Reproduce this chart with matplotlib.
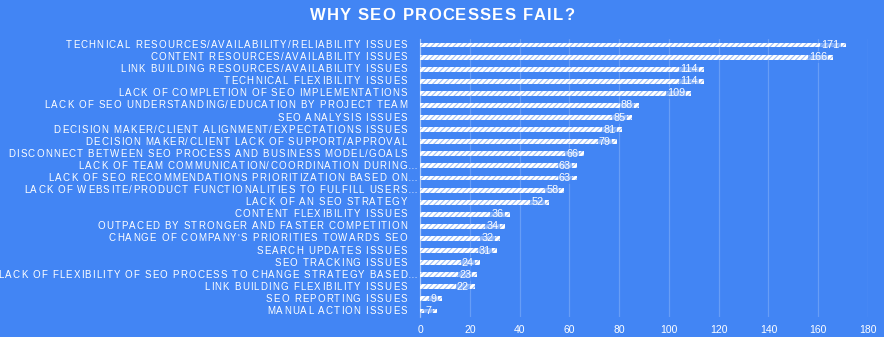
import matplotlib
matplotlib.use("Agg")
import matplotlib.pyplot as plt
from matplotlib.font_manager import FontProperties
from matplotlib.transforms import blended_transform_factory

categories = [
    "TECHNICAL RESOURCES/AVAILABILITY/RELIABILITY ISSUES",
    "CONTENT RESOURCES/AVAILABILITY ISSUES",
    "LINK BUILDING RESOURCES/AVAILABILITY ISSUES",
    "TECHNICAL FLEXIBILITY ISSUES",
    "LACK OF COMPLETION OF SEO IMPLEMENTATIONS",
    "LACK OF SEO UNDERSTANDING/EDUCATION BY PROJECT TEAM",
    "SEO ANALYSIS ISSUES",
    "DECISION MAKER/CLIENT ALIGNMENT/EXPECTATIONS ISSUES",
    "DECISION MAKER/CLIENT LACK OF SUPPORT/APPROVAL",
    "DISCONNECT BETWEEN SEO PROCESS AND BUSINESS MODEL/GOALS",
    "LACK OF TEAM COMMUNICATION/COORDINATION DURING\u2026",
    "LACK OF SEO RECOMMENDATIONS PRIORITIZATION BASED ON\u2026",
    "LACK OF WEBSITE/PRODUCT FUNCTIONALITIES TO FULFILL USERS\u2026",
    "LACK OF AN SEO STRATEGY",
    "CONTENT FLEXIBILITY ISSUES",
    "OUTPACED BY STRONGER AND FASTER COMPETITION",
    "CHANGE OF COMPANY'S PRIORITIES TOWARDS SEO",
    "SEARCH UPDATES ISSUES",
    "SEO TRACKING ISSUES",
    "LACK OF FLEXIBILITY OF SEO PROCESS TO CHANGE STRATEGY BASED\u2026",
    "LINK BUILDING FLEXIBILITY ISSUES",
    "SEO REPORTING ISSUES",
    "MANUAL ACTION ISSUES",
]
values = [171, 166, 114, 114, 109, 88, 85, 81, 79, 66, 63, 63, 58, 52,
          36, 34, 32, 31, 24, 23, 22, 9, 7]
x_ticks = [0, 20, 40, 60, 80, 100, 120, 140, 160, 180]
title = "WHY SEO PROCESSES FAIL?"

BG = "#4285f4"
W, H = 884, 337
plt.rcParams["hatch.linewidth"] = 0.8
plt.rcParams["font.family"] = ["Liberation Sans", "DejaVu Sans"]

fig = plt.figure(figsize=(W / 100, H / 100), dpi=100, facecolor=BG)
ax = fig.add_axes([420 / W, 1 - 317 / H, (868 - 420) / W, (317 - 39) / H])
ax.set_facecolor(BG)
renderer = fig.canvas.get_renderer()


def tracked_text(x_px, y, s, fp, track_px, ha="right", transform=None, **kw):
    """Draw text with extra letter spacing, one glyph at a time."""
    widths = [renderer.get_text_width_height_descent(c, fp, ismath=False)[0]
              for c in s]
    total = sum(widths) + track_px * (len(s) - 1)
    if ha == "right":
        start = x_px - total
    elif ha == "center":
        start = x_px - total / 2
    else:
        start = x_px
    for c, w in zip(s, widths):
        fig.text(start / W, y, c, fontproperties=fp, ha="left", va="center",
                 transform=transform, **kw)
        start += w + track_px


y = list(range(len(categories)))
ax.barh(y, values, height=0.4, color="white", edgecolor="#9dbdf7",
        hatch="//////", linewidth=0, zorder=2)

value_fp = FontProperties(family="Liberation Sans", size=7.8)
for yi, v in zip(y, values):
    ax.annotate(str(v), (v, yi), xytext=(-4.3, 0), textcoords="offset points",
                ha="right", va="center", color="white", fontproperties=value_fp,
                zorder=4,
                bbox=dict(boxstyle="square,pad=0.1", facecolor=BG, alpha=0.6,
                          edgecolor="none"))

ax.set_ylim(len(categories) - 0.5, -0.5)
ax.set_xlim(0, 180)
ax.set_xticks(x_ticks)
ax.set_yticks(y)
ax.set_yticklabels([])
ax.tick_params(axis="y", length=0)
ax.tick_params(axis="x", length=0, pad=6, labelsize=7.5, labelcolor="white")
ax.grid(axis="x", color="white", alpha=0.2, linewidth=0.9, zorder=0)
for s in ["top", "right", "bottom"]:
    ax.spines[s].set_visible(False)
ax.spines["left"].set_color((1, 1, 1, 0.45))
ax.spines["left"].set_linewidth(0.9)

# category labels with letter spacing; truncated names let the ellipsis
# hang past the common right edge
label_fp = FontProperties(family="Liberation Sans", size=7)
label_tf = blended_transform_factory(fig.transFigure, ax.transData)
for yi, name in zip(y, categories):
    right = 418 if name.endswith("\u2026") else 407
    tracked_text(right, yi, name, label_fp, 1.15, ha="right",
                 transform=label_tf, color="white")

title_fp = FontProperties(family="Liberation Sans", size=12, weight="bold")
tracked_text(W / 2, 1 - 16 / H, title, title_fp, 1.2, ha="center",
             transform=fig.transFigure, color="white")

fig.savefig("out.png", dpi=100, facecolor=BG)
